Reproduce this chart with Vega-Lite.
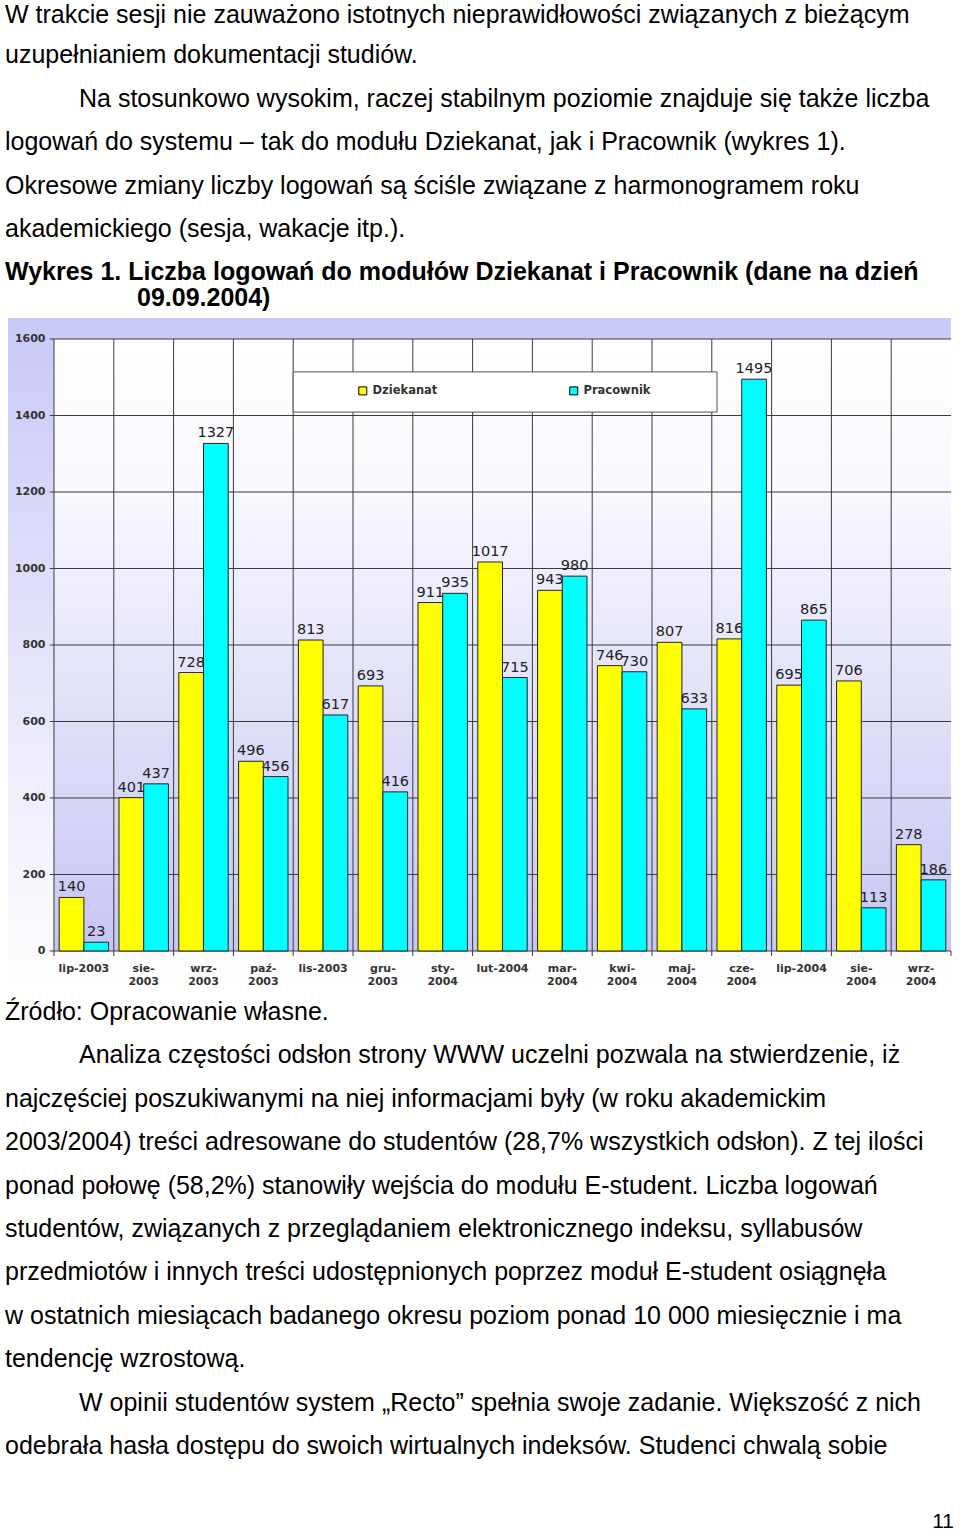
{
  "$schema": "https://vega.github.io/schema/vega-lite/v6.json",
  "padding": 0,
  "spacing": 0,
  "bounds": "flush",
  "background": "#ffffff",
  "config": {"view": {"stroke": null}},
  "datasets": {
    "bars": [
      {"month": "lip-2003", "series": "Dziekanat", "value": 140},
      {"month": "lip-2003", "series": "Pracownik", "value": 23},
      {"month": "sie-2003", "series": "Dziekanat", "value": 401},
      {"month": "sie-2003", "series": "Pracownik", "value": 437},
      {"month": "wrz-2003", "series": "Dziekanat", "value": 728},
      {"month": "wrz-2003", "series": "Pracownik", "value": 1327},
      {"month": "paź-2003", "series": "Dziekanat", "value": 496},
      {"month": "paź-2003", "series": "Pracownik", "value": 456},
      {"month": "lis-2003", "series": "Dziekanat", "value": 813},
      {"month": "lis-2003", "series": "Pracownik", "value": 617},
      {"month": "gru-2003", "series": "Dziekanat", "value": 693},
      {"month": "gru-2003", "series": "Pracownik", "value": 416},
      {"month": "sty-2004", "series": "Dziekanat", "value": 911},
      {"month": "sty-2004", "series": "Pracownik", "value": 935},
      {"month": "lut-2004", "series": "Dziekanat", "value": 1017},
      {"month": "lut-2004", "series": "Pracownik", "value": 715},
      {"month": "mar-2004", "series": "Dziekanat", "value": 943},
      {"month": "mar-2004", "series": "Pracownik", "value": 980},
      {"month": "kwi-2004", "series": "Dziekanat", "value": 746},
      {"month": "kwi-2004", "series": "Pracownik", "value": 730},
      {"month": "maj-2004", "series": "Dziekanat", "value": 807},
      {"month": "maj-2004", "series": "Pracownik", "value": 633},
      {"month": "cze-2004", "series": "Dziekanat", "value": 816},
      {"month": "cze-2004", "series": "Pracownik", "value": 1495},
      {"month": "lip-2004", "series": "Dziekanat", "value": 695},
      {"month": "lip-2004", "series": "Pracownik", "value": 865},
      {"month": "sie-2004", "series": "Dziekanat", "value": 706},
      {"month": "sie-2004", "series": "Pracownik", "value": 113},
      {"month": "wrz-2004", "series": "Dziekanat", "value": 278},
      {"month": "wrz-2004", "series": "Pracownik", "value": 186}
    ],
    "grid": [{"v": 0}, {"v": 200}, {"v": 400}, {"v": 600}, {"v": 800}, {"v": 1000}, {"v": 1200}, {"v": 1400}, {"v": 1600}],
    "one": [{"k": 1}],
    "top": [
      {"line": 1.06, "kind": "body", "text": "W trakcie sesji nie zauważono istotnych nieprawidłowości związanych z bieżącym"},
      {"line": 2, "kind": "body", "text": "uzupełnianiem dokumentacji studiów."},
      {"line": 3, "kind": "para", "text": "Na stosunkowo wysokim, raczej stabilnym poziomie znajduje się także liczba"},
      {"line": 4, "kind": "body", "text": "logowań do systemu – tak do modułu Dziekanat, jak i Pracownik (wykres 1)."},
      {"line": 5, "kind": "body", "text": "Okresowe zmiany liczby logowań są ściśle związane z harmonogramem roku"},
      {"line": 6, "kind": "body", "text": "akademickiego (sesja, wakacje itp.)."},
      {"line": 7, "kind": "caption", "text": "Wykres 1. Liczba logowań do modułów Dziekanat i Pracownik (dane na dzień"},
      {"line": 7.6, "kind": "caption-cont", "text": "09.09.2004)"}
    ],
    "bottom": [
      {"line": 1, "kind": "body", "text": "Źródło: Opracowanie własne."},
      {"line": 2, "kind": "para", "text": "Analiza częstości odsłon strony WWW uczelni pozwala na stwierdzenie, iż"},
      {"line": 3, "kind": "body", "text": "najczęściej poszukiwanymi na niej informacjami były (w roku akademickim"},
      {"line": 4, "kind": "body", "text": "2003/2004) treści adresowane do studentów (28,7% wszystkich odsłon). Z tej ilości"},
      {"line": 5, "kind": "body", "text": "ponad połowę (58,2%) stanowiły wejścia do modułu E-student. Liczba logowań"},
      {"line": 6, "kind": "body", "text": "studentów, związanych z przeglądaniem elektronicznego indeksu, syllabusów"},
      {"line": 7, "kind": "body", "text": "przedmiotów i innych treści udostępnionych poprzez moduł E-student osiągnęła"},
      {"line": 8, "kind": "body", "text": "w ostatnich miesiącach badanego okresu poziom ponad 10 000 miesięcznie i ma"},
      {"line": 9, "kind": "body", "text": "tendencję wzrostową."},
      {"line": 10, "kind": "para", "text": "W opinii studentów system „Recto” spełnia swoje zadanie. Większość z nich"},
      {"line": 11, "kind": "body", "text": "odebrała hasła dostępu do swoich wirtualnych indeksów. Studenci chwalą sobie"},
      {"line": 12.7, "kind": "page", "text": "11"}
    ]
  },
  "vconcat": [
    {
      "width": 960,
      "height": 318,
      "data": {"name": "top"},
      "encoding": {
        "y": {"field": "line", "type": "quantitative", "scale": {"domain": [0.539, 7.866], "reverse": true, "nice": false, "zero": false}, "axis": null},
        "text": {"field": "text"}
      },
      "layer": [
        {"transform": [{"filter": "datum.kind === 'body'"}],
         "mark": {"type": "text", "align": "left", "baseline": "alphabetic", "x": 0, "dx": 5, "font": "Liberation Sans", "fontSize": 25, "color": "#000000"}},
        {"transform": [{"filter": "datum.kind === 'para'"}],
         "mark": {"type": "text", "align": "left", "baseline": "alphabetic", "x": 0, "dx": 79, "font": "Liberation Sans", "fontSize": 25, "color": "#000000"}},
        {"transform": [{"filter": "datum.kind === 'caption'"}],
         "mark": {"type": "text", "align": "left", "baseline": "alphabetic", "x": 0, "dx": 5, "font": "Liberation Sans", "fontSize": 25, "fontWeight": "bold", "color": "#000000"}},
        {"transform": [{"filter": "datum.kind === 'caption-cont'"}],
         "mark": {"type": "text", "align": "left", "baseline": "alphabetic", "x": 0, "dx": 137, "font": "Liberation Sans", "fontSize": 25, "fontWeight": "bold", "color": "#000000"}}
      ]
    },
    {
      "width": 951,
      "height": 674,
      "layer": [
        {
          "data": {"name": "one"},
          "mark": {"type": "rect", "fill": {"gradient": "linear", "x1": 0, "y1": 0, "x2": 0, "y2": 1, "stops": [{"offset": 0, "color": "#c9c9f7"}, {"offset": 1, "color": "#ffffff"}]}},
          "encoding": {
            "x": {"datum": "lip-2003", "type": "nominal", "bandPosition": -0.769,
                  "scale": {"domain": ["lip-2003", "sie-2003", "wrz-2003", "paź-2003", "lis-2003", "gru-2003", "sty-2004", "lut-2004", "mar-2004", "kwi-2004", "maj-2004", "cze-2004", "lip-2004", "sie-2004", "wrz-2004"], "paddingInner": 0, "paddingOuter": 0.4515, "align": 1},
                  "axis": {"orient": "bottom", "offset": -41, "labelPadding": 11, "ticks": false, "domain": false, "grid": false, "title": null, "labelAngle": 0, "labelFont": "DejaVu Sans", "labelFontWeight": "bold", "labelFontSize": 11, "labelColor": "#333333", "labelBaseline": "top", "labelLineHeight": 13, "labelOverlap": false, "labelBound": false, "zindex": 1,
                           "labelExpr": "indexof(['lip-2003','lis-2003','lut-2004','lip-2004'], datum.value) >= 0 ? datum.value : [substring(datum.value, 0, 4), substring(datum.value, 4)]"}},
            "x2": {"value": "width"},
            "y": {"datum": -107.2, "type": "quantitative",
                  "scale": {"domain": [-107.2, 1654.9], "nice": false, "zero": false},
                  "axis": {"values": [0, 200, 400, 600, 800, 1000, 1200, 1400, 1600], "format": "d", "offset": -49, "labelPadding": 4, "ticks": false, "domain": false, "grid": false, "title": null, "labelFont": "DejaVu Sans", "labelFontWeight": "bold", "labelFontSize": 11, "labelColor": "#333333", "labelOverlap": false, "labelBound": false, "zindex": 1}},
            "y2": {"datum": 1654.9}
          }
        },
        {
          "data": {"name": "one"},
          "mark": {"type": "rect", "fill": {"gradient": "linear", "x1": 0, "y1": 0, "x2": 0, "y2": 1, "stops": [{"offset": 0, "color": "#ffffff"}, {"offset": 0.25, "color": "#f8f8fe"}, {"offset": 1, "color": "#c6c6f4"}]}},
          "encoding": {
            "x": {"datum": "lip-2003", "type": "nominal", "bandPosition": 0},
            "x2": {"value": "width"},
            "y": {"datum": 1600, "type": "quantitative"},
            "y2": {"datum": 0}
          }
        },
        {
          "data": {"name": "bars"},
          "transform": [{"filter": "datum.series === 'Dziekanat'"}],
          "mark": {"type": "rule", "color": "#3a3a3a", "strokeWidth": 1},
          "encoding": {
            "x": {"field": "month", "type": "nominal", "bandPosition": 0},
            "y": {"datum": -13, "type": "quantitative"},
            "y2": {"datum": 1600}
          }
        },
        {
          "data": {"name": "one"},
          "mark": {"type": "rule", "color": "#3a3a3a", "strokeWidth": 1},
          "encoding": {
            "x": {"datum": "wrz-2004", "type": "nominal", "bandPosition": 1},
            "y": {"datum": -13, "type": "quantitative"},
            "y2": {"datum": 0}
          }
        },
        {
          "data": {"name": "grid"},
          "mark": {"type": "rule", "color": "#3a3a3a", "strokeWidth": 1},
          "encoding": {
            "y": {"field": "v", "type": "quantitative"},
            "x": {"datum": "lip-2003", "type": "nominal", "bandPosition": -0.07},
            "x2": {"value": "width"}
          }
        },
        {
          "data": {"name": "bars"},
          "mark": {"type": "bar", "stroke": "#222222", "strokeWidth": 1},
          "encoding": {
            "x": {"field": "month", "type": "nominal"},
            "xOffset": {"field": "series", "type": "nominal", "scale": {"paddingInner": 0, "paddingOuter": 0.21}},
            "y": {"field": "value", "type": "quantitative"},
            "color": {"field": "series", "type": "nominal",
                      "scale": {"domain": ["Dziekanat", "Pracownik"], "range": ["#ffff00", "#00ffff"]},
                      "legend": {"orient": "none", "legendX": 357, "legendY": 385, "direction": "horizontal", "title": null, "padding": 0, "symbolType": "square", "symbolSize": 64, "symbolStrokeColor": "#000000", "symbolStrokeWidth": 1, "symbolOpacity": 1, "labelFont": "DejaVu Sans", "labelFontWeight": "bold", "labelFontSize": 11.5, "labelColor": "#333333", "labelOffset": 4, "columnPadding": 129, "zindex": 1}}
          }
        },
        {
          "data": {"name": "bars"},
          "mark": {"type": "text", "baseline": "alphabetic", "dy": -6, "font": "DejaVu Sans", "fontSize": 14.5, "color": "#222222"},
          "encoding": {
            "x": {"field": "month", "type": "nominal"},
            "xOffset": {"field": "series", "type": "nominal"},
            "y": {"field": "value", "type": "quantitative"},
            "text": {"field": "value", "type": "quantitative"}
          }
        },
        {
          "data": {"name": "one"},
          "mark": {"type": "rect", "fill": "#ffffff", "stroke": "#555555", "strokeWidth": 1},
          "encoding": {
            "x": {"datum": "lis-2003", "type": "nominal", "bandPosition": 0},
            "x2": {"datum": "cze-2004", "bandPosition": 0.087},
            "y": {"datum": 1409, "type": "quantitative"},
            "y2": {"datum": 1514}
          }
        }
      ]
    },
    {
      "width": 960,
      "height": 539,
      "data": {"name": "bottom"},
      "encoding": {
        "y": {"field": "line", "type": "quantitative", "scale": {"domain": [0.355, 12.774], "reverse": true, "nice": false, "zero": false}, "axis": null},
        "text": {"field": "text"}
      },
      "layer": [
        {"transform": [{"filter": "datum.kind === 'body'"}],
         "mark": {"type": "text", "align": "left", "baseline": "alphabetic", "x": 0, "dx": 5, "font": "Liberation Sans", "fontSize": 25, "color": "#000000"}},
        {"transform": [{"filter": "datum.kind === 'para'"}],
         "mark": {"type": "text", "align": "left", "baseline": "alphabetic", "x": 0, "dx": 79, "font": "Liberation Sans", "fontSize": 25, "color": "#000000"}},
        {"transform": [{"filter": "datum.kind === 'page'"}],
         "mark": {"type": "text", "align": "right", "baseline": "alphabetic", "dx": -6, "font": "Liberation Sans", "fontSize": 21, "color": "#000000"},
         "encoding": {"x": {"value": "width"}}}
      ]
    }
  ]
}
